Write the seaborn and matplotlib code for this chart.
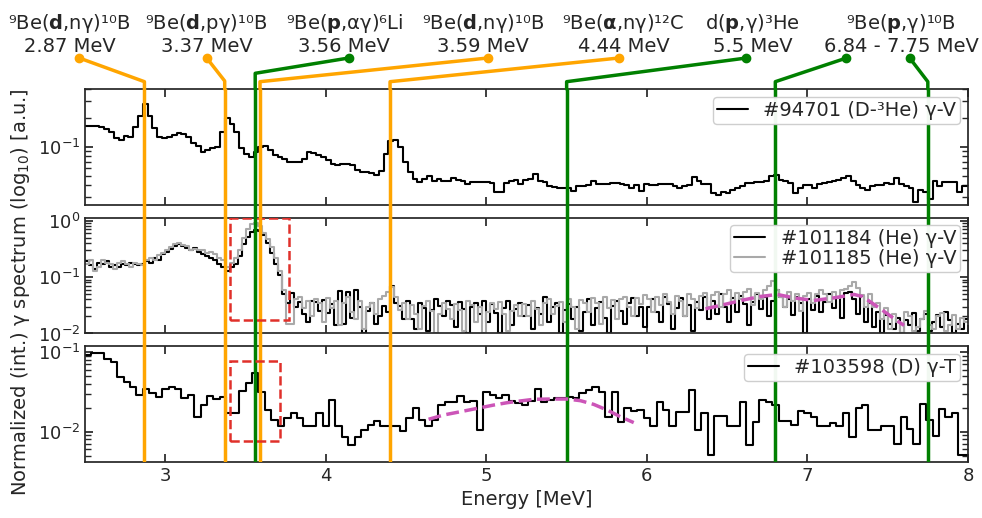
import numpy as np
import pandas as pd
import matplotlib
matplotlib.use("Agg")
import matplotlib.pyplot as plt
import matplotlib.transforms as mtransforms
from matplotlib.lines import Line2D
from matplotlib.patches import Rectangle
import seaborn as sns

# energy binning of the three spectra (MeV)
e_start = 2.5
bin_top = 0.03    # #94701
bin_mid = 0.025   # #101184 / #101185
bin_bot = 0.04    # #103598

# normalized spectra, one value per bin
spec_94701 = [
    0.167, 0.167, 0.164, 0.163, 0.154, 0.144, 0.123, 0.118, 0.131, 0.126,
    0.163, 0.212, 0.281, 0.212, 0.159, 0.128, 0.125, 0.128, 0.133, 0.141,
    0.136, 0.128, 0.109, 0.102, 0.089, 0.092, 0.097, 0.101, 0.144, 0.199,
    0.175, 0.144, 0.097, 0.084, 0.079, 0.089, 0.101, 0.103, 0.093, 0.083,
    0.079, 0.075, 0.070, 0.069, 0.070, 0.075, 0.089, 0.087, 0.083, 0.079,
    0.073, 0.066, 0.065, 0.067, 0.067, 0.065, 0.058, 0.055, 0.055, 0.054,
    0.051, 0.056, 0.085, 0.116, 0.118, 0.101, 0.070, 0.055, 0.046, 0.043,
    0.046, 0.050, 0.044, 0.046, 0.044, 0.044, 0.047, 0.045, 0.044, 0.041,
    0.043, 0.043, 0.043, 0.043, 0.042, 0.034, 0.034, 0.042, 0.044, 0.045,
    0.041, 0.045, 0.046, 0.052, 0.044, 0.043, 0.039, 0.038, 0.037, 0.037,
    0.037, 0.035, 0.039, 0.039, 0.040, 0.044, 0.041, 0.041, 0.041, 0.042,
    0.042, 0.041, 0.040, 0.037, 0.040, 0.035, 0.041, 0.040, 0.040, 0.041,
    0.041, 0.041, 0.039, 0.037, 0.039, 0.040, 0.049, 0.044, 0.041, 0.041,
    0.033, 0.032, 0.034, 0.033, 0.036, 0.037, 0.039, 0.042, 0.042, 0.043,
    0.043, 0.044, 0.050, 0.051, 0.045, 0.044, 0.042, 0.033, 0.037, 0.040,
    0.040, 0.037, 0.041, 0.042, 0.043, 0.044, 0.045, 0.047, 0.050, 0.044,
    0.040, 0.037, 0.036, 0.039, 0.040, 0.040, 0.042, 0.041, 0.047, 0.041,
    0.039, 0.037, 0.027, 0.036, 0.034, 0.029, 0.044, 0.039, 0.043, 0.043,
    0.043, 0.034, 0.039, 0.039,
]

spec_101184 = [
    0.19, 0.16, 0.14, 0.18, 0.17, 0.19, 0.15, 0.16, 0.15, 0.17, 0.16, 0.18, 0.17, 0.16,
    0.17, 0.19, 0.18, 0.22, 0.20, 0.26, 0.28, 0.31, 0.35, 0.38,
    0.36, 0.33, 0.30, 0.32, 0.28, 0.26, 0.24, 0.22, 0.20, 0.17, 0.15, 0.13,
    0.15, 0.17, 0.24, 0.38, 0.52, 0.62, 0.68, 0.66, 0.55, 0.40, 0.27, 0.17, 0.11, 0.05, 0.035,
    0.052, 0.030, 0.036, 0.022, 0.016, 0.037, 0.036, 0.025, 0.039, 0.023, 0.033, 0.014, 0.057,
    0.015, 0.055, 0.019, 0.060, 0.030, 0.010, 0.025, 0.035, 0.015, 0.020, 0.031, 0.024,
    0.070, 0.034, 0.031, 0.018, 0.038,
    0.018, 0.012, 0.035, 0.028, 0.011, 0.026, 0.040, 0.031, 0.020, 0.038, 0.032, 0.013, 0.036, 0.027,
    0.010, 0.030, 0.035, 0.022, 0.038, 0.016, 0.033, 0.023, 0.010, 0.028, 0.037, 0.014, 0.027, 0.034,
    0.020, 0.032, 0.012, 0.028, 0.022, 0.045, 0.016, 0.030, 0.034, 0.010, 0.026, 0.033, 0.018, 0.029, 0.011,
    0.024, 0.040, 0.014, 0.028, 0.036, 0.019, 0.010, 0.031, 0.038, 0.025, 0.015, 0.034, 0.043, 0.020, 0.029, 0.013,
    0.030, 0.041, 0.024, 0.016, 0.044, 0.033, 0.012, 0.028, 0.042, 0.020, 0.032, 0.011, 0.036, 0.026, 0.045, 0.018,
    0.038, 0.022, 0.050, 0.030, 0.016, 0.042, 0.024, 0.047, 0.033, 0.014, 0.036, 0.050, 0.027, 0.044, 0.020, 0.038,
    0.058, 0.045, 0.030, 0.040, 0.021, 0.044, 0.034, 0.010, 0.040, 0.026, 0.047, 0.024,
    0.036, 0.050, 0.028, 0.044, 0.019, 0.052, 0.055, 0.040, 0.022, 0.046, 0.016, 0.034,
    0.013, 0.024, 0.010, 0.021, 0.015, 0.012, 0.019, 0.010, 0.017, 0.014, 0.023, 0.011,
    0.018, 0.022, 0.011, 0.016, 0.021, 0.013, 0.024, 0.017, 0.010, 0.015, 0.012, 0.018,
]

spec_101185 = [
    0.17, 0.20, 0.13, 0.15, 0.20, 0.18, 0.17, 0.14, 0.18, 0.19, 0.17, 0.15, 0.18, 0.17,
    0.16, 0.20, 0.22, 0.20, 0.25, 0.27, 0.30, 0.34, 0.39, 0.40,
    0.37, 0.35, 0.30, 0.31, 0.30, 0.30, 0.27, 0.28, 0.26, 0.22, 0.20, 0.15,
    0.18, 0.22, 0.30, 0.50, 0.72, 0.88, 0.90, 0.80, 0.60, 0.47, 0.34, 0.22, 0.13, 0.06, 0.015,
    0.015, 0.040, 0.045, 0.028, 0.038, 0.020, 0.040, 0.034, 0.016, 0.042, 0.028, 0.037, 0.014, 0.035, 0.045,
    0.024, 0.018, 0.038, 0.012, 0.030, 0.034, 0.022, 0.040, 0.046, 0.055, 0.066, 0.045, 0.026, 0.034, 0.018,
    0.032, 0.022, 0.012, 0.031, 0.038, 0.025, 0.010, 0.022, 0.035, 0.027, 0.018, 0.033, 0.026, 0.011,
    0.037, 0.032, 0.016, 0.030, 0.010, 0.024, 0.034, 0.027, 0.036, 0.022, 0.011, 0.025, 0.032, 0.020,
    0.033, 0.020, 0.038, 0.027, 0.014, 0.035, 0.040, 0.022, 0.031, 0.036, 0.016, 0.041, 0.030, 0.012, 0.039,
    0.035, 0.024, 0.042, 0.034, 0.015, 0.044, 0.028, 0.039, 0.018, 0.040, 0.045, 0.030, 0.020, 0.043, 0.033, 0.048,
    0.040, 0.024, 0.045, 0.032, 0.050, 0.036, 0.022, 0.047, 0.038, 0.020, 0.049, 0.040, 0.028, 0.046, 0.052, 0.030,
    0.048, 0.055, 0.030, 0.050, 0.058, 0.036, 0.052, 0.040, 0.055, 0.062, 0.032, 0.053, 0.040, 0.058, 0.068, 0.085,
    0.060, 0.045, 0.030, 0.055, 0.038, 0.050, 0.025, 0.046, 0.052, 0.035, 0.049, 0.060,
    0.050, 0.036, 0.054, 0.042, 0.058, 0.062, 0.070, 0.080, 0.065, 0.048, 0.030, 0.050,
    0.030, 0.035, 0.018, 0.028, 0.012, 0.022, 0.016, 0.010, 0.024, 0.020, 0.011, 0.013,
    0.018, 0.025, 0.014, 0.012, 0.020, 0.023, 0.011, 0.014, 0.021, 0.012, 0.019, 0.016,
]

spec_103598 = [
    0.0917, 0.0962, 0.0962, 0.0817, 0.0742, 0.0481, 0.0416, 0.0360, 0.0289, 0.0343,
    0.0303, 0.0270, 0.0340, 0.0360, 0.0343, 0.0267, 0.0289, 0.0151, 0.0216, 0.0280,
    0.0255, 0.0270, 0.0170, 0.0170, 0.0327, 0.0412, 0.0550, 0.0318, 0.0187, 0.0140,
    0.0118, 0.0150, 0.0170, 0.0150, 0.0118, 0.0118, 0.0173, 0.0118, 0.0250, 0.0118,
    0.0085, 0.0069, 0.0085, 0.0105, 0.0121, 0.0136, 0.0118, 0.0118, 0.0118, 0.0103,
    0.0150, 0.0196, 0.0140, 0.0118, 0.0140, 0.0216, 0.0233, 0.0238, 0.0280, 0.0238,
    0.0243, 0.0105, 0.0312, 0.0289, 0.0262, 0.0289, 0.0245, 0.0227, 0.0216, 0.0245,
    0.0340, 0.0238, 0.0250, 0.0267, 0.0267, 0.0274, 0.0262, 0.0303, 0.0333, 0.0367,
    0.0318, 0.0151, 0.0318, 0.0133, 0.0196, 0.0184, 0.0187, 0.0147, 0.0118, 0.0238,
    0.0187, 0.0118, 0.0178, 0.0178, 0.0333, 0.0105, 0.0173, 0.0051, 0.0158, 0.0158,
    0.0118, 0.0118, 0.0238, 0.0068, 0.0133, 0.0250, 0.0238, 0.0216, 0.0136, 0.0137,
    0.0121, 0.0184, 0.0170, 0.0151, 0.0118, 0.0118, 0.0130, 0.0118, 0.0170, 0.0085,
    0.0200, 0.0216, 0.0105, 0.0105, 0.0118, 0.0118, 0.0070, 0.0151, 0.0107, 0.0070,
    0.0220, 0.0140, 0.0087, 0.0192, 0.0151, 0.0173, 0.0051, 0.0051,
]

# dashed model curves
model_mid_E = [6.365, 6.50, 6.604, 6.708, 6.812, 6.916, 7.04, 7.165, 7.29, 7.342, 7.394, 7.446, 7.498, 7.55, 7.602]
model_mid_v = [0.0273, 0.0335, 0.0394, 0.0452, 0.0491, 0.0427, 0.0384, 0.0427, 0.0491, 0.0452, 0.0359, 0.0285, 0.0223, 0.0174, 0.0139]
model_bot_E = [4.64, 4.734, 4.838, 4.942, 5.046, 5.129, 5.212, 5.295, 5.399, 5.503, 5.586, 5.669, 5.752, 5.835, 5.918]
model_bot_v = [0.0143, 0.0162, 0.0178, 0.0196, 0.0216, 0.0231, 0.0243, 0.0255, 0.0257, 0.0257, 0.0245, 0.0220, 0.0187, 0.0154, 0.0130]

# gamma lines and their labels
line_E = [2.87, 3.37, 3.56, 3.59, 4.40, 5.50, 6.80, 7.75]
line_col = ["orange", "orange", "green", "orange", "orange", "green", "green", "green"]
dot_E = [2.464, 3.258, 4.142, 5.008, 5.825, 6.619, 7.243, 7.637]
bend_y = [0.8423, 0.8436, 0.8585, 0.8423, 0.8423, 0.8423, 0.8423, 0.8423]

label_top = [
    r"⁹Be($\mathbf{d}$,nγ)¹⁰B",
    r"⁹Be($\mathbf{d}$,pγ)¹⁰B",
    r"⁹Be($\mathbf{p}$,αγ)⁶Li",
    r"⁹Be($\mathbf{d}$,nγ)¹⁰B",
    r"⁹Be($\mathbf{α}$,nγ)¹²C",
    r"d($\mathbf{p}$,γ)³He",
    r"⁹Be($\mathbf{p}$,γ)¹⁰B",
]
label_bot = ["2.87 MeV", "3.37 MeV", "3.56 MeV", "3.59 MeV", "4.44 MeV", "5.5 MeV", "6.84 - 7.75 MeV"]
label_E = [2.403, 3.256, 4.115, 4.981, 5.854, 6.658, 7.584]


def steps(vals, width):
    edges = e_start + width * np.arange(len(vals) + 1)
    return pd.DataFrame({"E": edges, "v": list(vals) + [vals[-1]]})


sns.set_theme(style="ticks")
plt.rcParams["font.family"] = ["DejaVu Sans"]
plt.rcParams["mathtext.fontset"] = "dejavusans"

fig, axes = plt.subplots(3, 1, figsize=(9.82, 5.18), dpi=100, sharex=True)
fig.subplots_adjust(left=0.0866, right=0.9857, bottom=0.1081, top=0.8282, hspace=0.108)
ax1, ax2, ax3 = axes

sns.lineplot(data=steps(spec_94701, bin_top), x="E", y="v", drawstyle="steps-post",
             color="black", lw=1.5, estimator=None, label="#94701 (D-³He) γ-V", ax=ax1)
sns.lineplot(data=steps(spec_101184, bin_mid), x="E", y="v", drawstyle="steps-post",
             color="black", lw=1.5, estimator=None, label="#101184 (He) γ-V", ax=ax2)
sns.lineplot(data=steps(spec_101185, bin_mid), x="E", y="v", drawstyle="steps-post",
             color="darkgray", lw=1.5, estimator=None, label="#101185 (He) γ-V", ax=ax2)
sns.lineplot(data=steps(spec_103598, bin_bot), x="E", y="v", drawstyle="steps-post",
             color="black", lw=1.5, estimator=None, label="#103598 (D) γ-T", ax=ax3)

# model curves
ax2.plot(model_mid_E, model_mid_v, color="#cc55b8", lw=2.5, ls="--", zorder=4)
ax3.plot(model_bot_E, model_bot_v, color="#cc55b8", lw=2.5, ls="--", zorder=4)

# regions of interest
ax2.add_patch(Rectangle((3.404, 0.0172), 0.368, 1.10 - 0.0172, fill=False,
                        ec="#e0302a", lw=1.8, ls="--", zorder=4))
ax3.add_patch(Rectangle((3.404, 0.0077), 0.312, 0.078 - 0.0077, fill=False,
                        ec="#e0302a", lw=1.8, ls="--", zorder=4))

ylims = [(0.0249, 0.402), (0.01, 1.13), (0.00416, 0.119)]
for ax, yl in zip(axes, ylims):
    ax.set_yscale("log")
    ax.set_xlim(2.5, 8)
    ax.set_ylim(*yl)
    ax.set_xlabel("")
    ax.set_ylabel("")
    ax.tick_params(which="both", direction="in", top=True, right=True, labelsize=13)
    for E, c in zip(line_E, line_col):
        ax.axvline(E, color=c, lw=2.5, zorder=3)
    ax.legend(loc="upper right", fontsize=14, handlelength=1.6, borderpad=0.2,
              labelspacing=0.05, borderaxespad=0.4, framealpha=0.95)

ax3.set_xticks([3, 4, 5, 6, 7, 8])
ax3.set_xlabel("Energy [MeV]", fontsize=14)
fig.text(0.0204, 0.437, "Normalized (int.) γ spectrum (log$_{10}$) [a.u.]",
         rotation=90, ha="center", va="center", fontsize=14)

# connectors between panels and up to the labels
blend = mtransforms.blended_transform_factory(ax3.transData, fig.transFigure)
p1, p2, p3 = [ax.get_position() for ax in axes]
dot_y = 0.888
for E, c, dE, by in zip(line_E, line_col, dot_E, bend_y):
    for y0, y1 in [(p3.y1, p2.y0), (p2.y1, p1.y0)]:
        fig.add_artist(Line2D([E, E], [y0, y1], transform=blend, color=c, lw=2.5))
    fig.add_artist(Line2D([E, E, dE], [p1.y1, by, dot_y], transform=blend, color=c, lw=2.5))
    fig.add_artist(Line2D([dE], [dot_y], transform=blend, color=c, marker="o", ms=6))

for t1, t2, xe in zip(label_top, label_bot, label_E):
    fig.text(xe, 0.9434, t1, transform=blend, ha="center", va="baseline", fontsize=14)
    fig.text(xe, 0.8990, t2, transform=blend, ha="center", va="baseline", fontsize=14)

fig.savefig("out.png", dpi=100)
